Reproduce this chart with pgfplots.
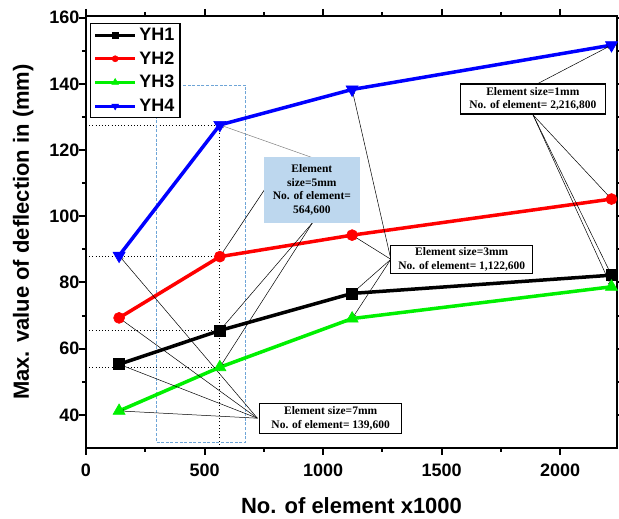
\documentclass[border=0pt]{standalone}
\usepackage{fontspec}
\setmainfont{Liberation Serif}
\setsansfont{Liberation Sans}
\usepackage{pgfplots}
\pgfplotsset{compat=1.18}
\usetikzlibrary{arrows.meta,calc}

\definecolor{boxblue}{RGB}{189,215,238}
\definecolor{rectblue}{RGB}{110,165,215}
\definecolor{ygreen}{RGB}{0,240,0}

\tikzset{
  callout/.style={-{Stealth[length=5pt,width=3.5pt]}, line width=0.5pt, black},
  note/.style={draw=black, line width=1.2pt, fill=white, inner sep=0pt, align=center,
    font=\bfseries\fontsize{11.5}{13.4}\selectfont},
}

\begin{document}
\begin{tikzpicture}
\begin{axis}[
  scale only axis, width=531pt, height=432pt,
  xmin=0, xmax=2240, ymin=30, ymax=160.5,
  clip=false,
  axis line style={line width=2.5pt},
  xtick={0,500,1000,1500,2000},
  xticklabels={0,500,1000,1500,2000},
  ytick={40,60,...,160},
  yticklabels={40,60,80,{100\hspace{7pt}},{120\hspace{7pt}},{140\hspace{7pt}},{160\hspace{7pt}}},
  minor x tick num=1, minor y tick num=1,
  tick align=outside, tick pos=both,
  major tick length=7pt, minor tick length=4pt,
  every tick/.style={black, line width=2pt},
  ticklabel style={font=\sffamily\bfseries\fontsize{18}{21}\selectfont},
  xticklabel style={yshift=-5pt},
  yticklabel style={xshift=4pt},
  /pgf/number format/assume math mode=true,
  label style={font=\sffamily\bfseries\fontsize{22}{26}\selectfont},
  xlabel={No. of element x1000},
  ylabel={Max. value of deflection in (mm)},
  xlabel style={at={(axis description cs:0.5,-0.1505)}, anchor=base},
  ylabel style={at={(axis description cs:-0.1077,0.5)}, anchor=base},
  legend style={at={(rel axis cs:0,1)}, anchor=north west, xshift=4pt, yshift=-6.7pt,
    draw=black, line width=1.5pt, fill=white,
    font=\sffamily\bfseries\fontsize{18}{21}\selectfont,
    row sep=4pt, nodes={inner sep=2.8pt}},
  legend cell align=left,
  legend image code/.code={%
    \draw[line width=3pt, mark repeat=2, mark phase=2, every mark/.append style={scale=0.55}]
      plot coordinates {(0cm,0cm) (0.7cm,0cm) (1.4cm,0cm)};},
]

% guide lines to the 564,600-element points
\addplot[forget plot, black, line width=0.8pt, dash pattern=on 1pt off 2.2pt]
  coordinates {(0,127.6) (564.6,127.6)};
\addplot[forget plot, black, line width=0.8pt, dash pattern=on 1pt off 2.2pt]
  coordinates {(0,88) (564.6,88)};
\addplot[forget plot, black, line width=0.8pt, dash pattern=on 1pt off 2.2pt]
  coordinates {(0,65.5) (564.6,65.5)};
\addplot[forget plot, black, line width=0.8pt, dash pattern=on 1pt off 2.2pt]
  coordinates {(0,54.4) (564.6,54.4)};
\addplot[forget plot, black, line width=0.8pt, dash pattern=on 1pt off 2.2pt]
  coordinates {(564.6,30) (564.6,127.6)};
% frame around the 5 mm mesh
\addplot[forget plot, rectblue, line width=0.8pt, dash pattern=on 3pt off 1.6pt]
  coordinates {(298,31.8) (674.5,31.8) (674.5,139.6) (298,139.6) (298,31.8)};

\addplot[black, line width=3.5pt, mark=square*, mark size=5.5pt, mark options={solid, line width=0.6pt}]
  coordinates {(139.6,55.3) (564.6,65.5) (1122.6,76.7) (2216.8,82.2)};
\addlegendentry{YH1}
\addplot[red, line width=3.5pt, mark=*, mark size=5.5pt, mark options={solid, line width=0.6pt}]
  coordinates {(139.6,69.3) (564.6,87.8) (1122.6,94.3) (2216.8,105.2)};
\addlegendentry{YH2}
\addplot[ygreen, line width=3.5pt, mark=triangle*, mark size=7pt, mark options={solid, line width=0.6pt}]
  coordinates {(139.6,41.2) (564.6,54.4) (1122.6,69.1) (2216.8,78.7)};
\addlegendentry{YH3}
\addplot[blue, line width=3.5pt, mark=triangle*, mark size=7pt, mark options={solid, line width=0.6pt, rotate=180}]
  coordinates {(139.6,88.1) (564.6,127.6) (1122.6,138.3) (2216.8,151.7)};
\addlegendentry{YH4}

% callouts: 7 mm mesh
\draw[callout] (axis cs:723,39) -- (axis cs:139.6,88.1);
\draw[callout] (axis cs:723,39) -- (axis cs:139.6,69.3);
\draw[callout] (axis cs:723,39) -- (axis cs:139.6,55.3);
\draw[callout] (axis cs:723,39) -- (axis cs:139.6,41.2);
% 5 mm mesh
\draw[callout, gray] (axis cs:951.5,117.8) -- (axis cs:564.6,127.6);
\draw[callout] (axis cs:754.6,108.2) -- (axis cs:564.6,87.8);
\draw[callout] (axis cs:955,98) -- (axis cs:564.6,65.5);
\draw[callout] (axis cs:955,98) -- (axis cs:564.6,54.4);
% 3 mm mesh
\draw[callout] (axis cs:1286,87) -- (axis cs:1122.6,138.3);
\draw[callout] (axis cs:1286,87) -- (axis cs:1122.6,94.3);
\draw[callout] (axis cs:1286,87) -- (axis cs:1122.6,76.7);
\draw[callout] (axis cs:1286,87) -- (axis cs:1122.6,69.1);
% 1 mm mesh
\draw[callout] (axis cs:1901,139.9) -- (axis cs:2216.8,151.7);
\draw[callout] (axis cs:1886,130.6) -- (axis cs:2216.8,105.2);
\draw[callout] (axis cs:1886,130.6) -- (axis cs:2216.8,82.2);
\draw[callout] (axis cs:1886,130.6) -- (axis cs:2216.8,78.7);

\node[note, minimum width=145pt, minimum height=30pt] at (axis cs:1885,135.4)
  {Element size=1mm\\No. of element= 2,216,800};
\node[note, minimum width=142pt, minimum height=28pt] at (axis cs:1585,86.98)
  {Element size=3mm\\No. of element= 1,122,600};
\node[note, minimum width=142pt, minimum height=30pt] at (axis cs:1032,38.9)
  {Element size=7mm\\No. of element= 139,600};
\node[note, draw=none, fill=boxblue, minimum width=96pt, minimum height=66pt,
  font=\bfseries\fontsize{11.5}{13.7}\selectfont] at (axis cs:952.8,108)
  {Element\\size=5mm\\No. of element=\\564,600};
\end{axis}
\pgfresetboundingbox
\path ($(current axis.south west)+(-86pt,-71pt)$) rectangle ($(current axis.north east)+(2pt,16pt)$);
\end{tikzpicture}
\end{document}
